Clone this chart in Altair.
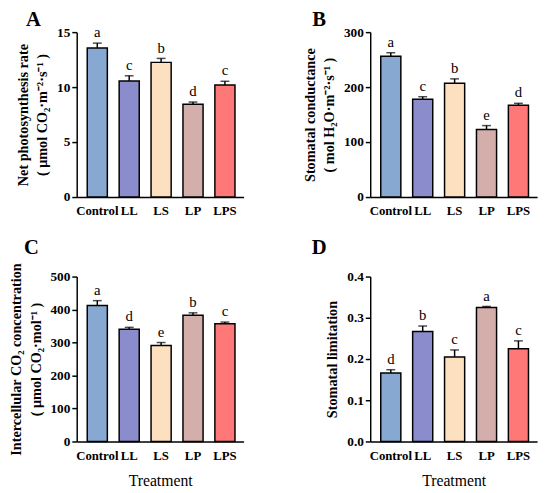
import altair as alt
import pandas as pd

treatments = ["Control", "LL", "LS", "LP", "LPS"]
colors = ["#87a8d0", "#8b8ccc", "#fde0c0", "#d4aeab", "#ff7878"]

pn_mean = [13.55, 10.55, 12.25, 8.45, 10.2]
pn_err = [0.45, 0.48, 0.36, 0.19, 0.33]
pn_letters = ["a", "c", "b", "d", "c"]

gs_mean = [256, 178, 207, 123, 167]
gs_err = [6.5, 4.5, 8, 7, 3.5]
gs_letters = ["a", "c", "b", "e", "d"]

ci_mean = [412, 340, 291, 383, 357]
ci_err = [15, 6, 9, 7, 5]
ci_letters = ["a", "d", "e", "b", "c"]

sl_mean = [0.166, 0.267, 0.205, 0.325, 0.225]
sl_err = [0.008, 0.013, 0.017, 0.0025, 0.019]
sl_letters = ["d", "b", "c", "a", "c"]

SERIF = "Liberation Serif"
W, H = 170, 168


def panel(mean, err, letters, ytitle, ymax, ticks, fmt, tag, tag_dx, tag_dy, xtitle):
    df = pd.DataFrame({
        "Treatment": treatments,
        "value": mean,
        "upper": [m + e for m, e in zip(mean, err)],
        "sig": letters,
    })
    xaxis_kw = dict(
        labelAngle=0, ticks=False, domainColor="black", domainWidth=1.5,
        labelFont=SERIF, labelFontWeight="bold", labelFontSize=13,
        labelColor="black", labelPadding=8, labelOverlap=False,
    )
    if xtitle:
        xaxis_kw.update(title="Treatment", titleFont=SERIF, titleFontWeight="normal",
                        titleFontSize=16, titleColor="black", titlePadding=11)
    else:
        xaxis_kw.update(title=None)
    xaxis = alt.Axis(**xaxis_kw)
    xscale = alt.Scale(domain=treatments, paddingInner=0.37, paddingOuter=0.3, align=0.55)
    yaxis = alt.Axis(title=ytitle, values=ticks, format=fmt, grid=False,
                     domainColor="black", domainWidth=1.5, tickColor="black",
                     tickWidth=1.5, tickSize=5, labelFont=SERIF,
                     labelFontWeight="bold", labelFontSize=13.5, labelColor="black",
                     labelPadding=2, labelOverlap=False, titleFont=SERIF,
                     titleFontWeight="bold", titleFontSize=14.5, titleColor="black",
                     titlePadding=7, titleLineHeight=20)
    yscale = alt.Scale(domain=[0, ymax], nice=False)

    def X():
        return alt.X("Treatment:N", sort=treatments, scale=xscale, axis=xaxis)

    def Y(field):
        return alt.Y(field, scale=yscale, axis=yaxis)

    base = alt.Chart(df)
    bars = base.mark_bar(stroke="black", strokeWidth=1.5).encode(
        x=X(), y=Y("value:Q"),
        color=alt.Color("Treatment:N", scale=alt.Scale(domain=treatments, range=colors), legend=None),
    )
    rule = base.mark_rule(color="black", strokeWidth=1.5).encode(
        x=X(), y=Y("value:Q"), y2="upper:Q")
    cap = base.mark_tick(color="black", thickness=1.5, size=9).encode(
        x=X(), y=Y("upper:Q"))
    sig = base.mark_text(font=SERIF, fontSize=15, baseline="bottom", dy=-3, color="black").encode(
        x=X(), y=Y("upper:Q"), text="sig:N")
    lab = alt.Chart(pd.DataFrame({"t": [tag]})).mark_text(
        font=SERIF, fontSize=21, fontWeight="bold", color="black", align="center", baseline="middle"
    ).encode(x=alt.value(tag_dx), y=alt.value(tag_dy), text="t:N")
    return alt.layer(bars, rule, cap, sig, lab).properties(width=W, height=H)


A = panel(pn_mean, pn_err, pn_letters, ["Net photosynthesis rate", "( μmol CO₂·m⁻²·s⁻¹ )"],
          15, [0, 5, 10, 15], "d", "A", -44, -12, False)
B = panel(gs_mean, gs_err, gs_letters, ["Stomatal conductance", "( mol H₂O·m⁻²·s⁻¹ )"],
          300, [0, 100, 200, 300], "d", "B", -52, -12, False)
C = panel(ci_mean, ci_err, ci_letters, ["Intercellular CO₂ concentration", "( μmol CO₂·mol⁻¹ )"],
          500, [0, 100, 200, 300, 400, 500], "d", "C", -46, -29, True)
D = panel(sl_mean, sl_err, sl_letters, "Stomatal limitation",
          0.4, [0, 0.1, 0.2, 0.3, 0.4], ".1f", "D", -52, -29, True)

chart = alt.concat(A, B, C, D, columns=2, spacing={"row": 81, "column": 129}, bounds="flush").properties(
    padding={"left": 0, "top": -3, "right": 5, "bottom": 5}
).configure_view(strokeWidth=0)

chart.save("out.html", embed_options={"renderer": "svg", "actions": False})
